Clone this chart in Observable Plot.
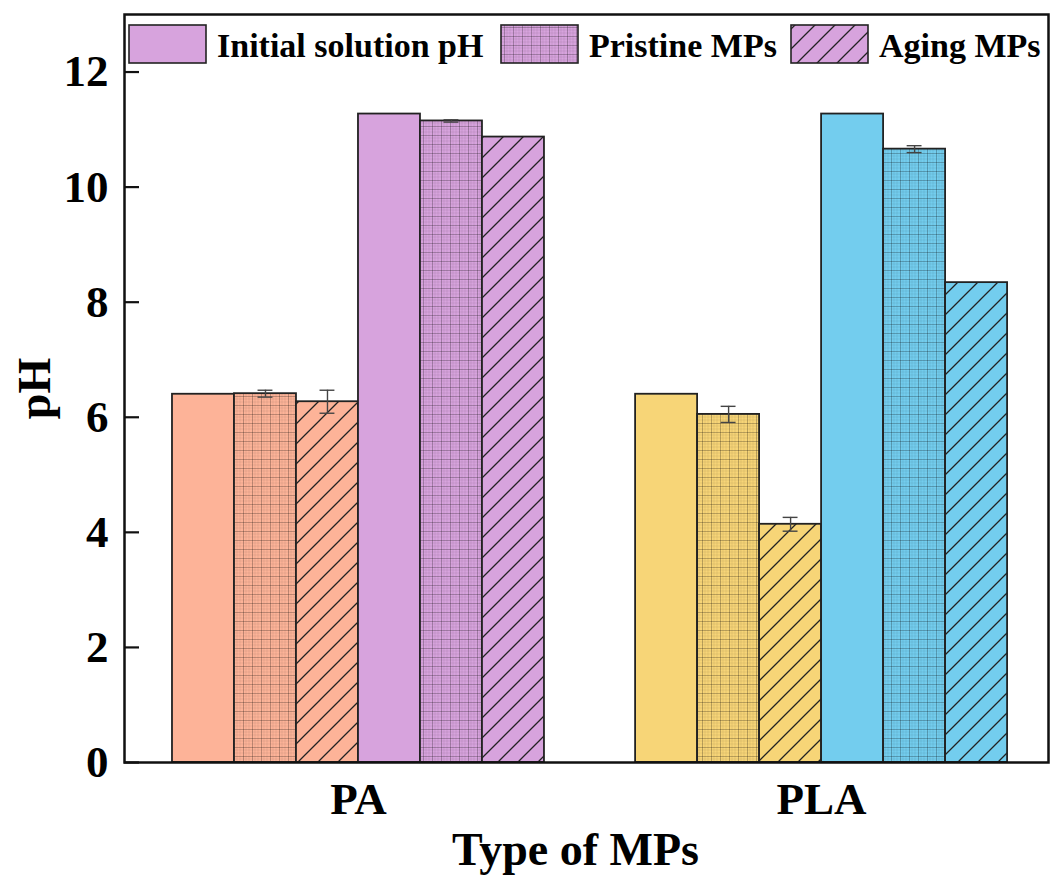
<!DOCTYPE html>
<html>
<head>
<meta charset="utf-8">
<script src="https://cdn.jsdelivr.net/npm/d3@7"></script>
<script src="https://cdn.jsdelivr.net/npm/@observablehq/plot@0.6"></script>
<style>
  html, body { margin: 0; padding: 0; background: #fff; }
  #chart svg { display: block; }
</style>
</head>
<body>
<div id="chart"></div>
<script>
// ---- data ----
const groups = ["PA", "PLA"];
const treatments = ["Initial solution pH", "Pristine MPs", "Aging MPs"];
const conditions = ["near-neutral", "alkaline"]; // two initial pH conditions per MP type
const paValues = [6.40, 6.41, 6.27, 11.27, 11.15, 10.87];
const paErrors = [0, 0.06, 0.20, 0, 0.02, 0];
const plaValues = [6.40, 6.05, 4.14, 11.27, 10.66, 8.34];
const plaErrors = [0, 0.14, 0.12, 0, 0.06, 0];
const paColors = ["#FDB398", "#D7A3DD"];
const plaColors = ["#F7D577", "#73CDEE"];
const yTicks = [0, 2, 4, 6, 8, 10, 12];

const valuesByGroup = {PA: paValues, PLA: plaValues};
const errorsByGroup = {PA: paErrors, PLA: plaErrors};
const colorsByGroup = {PA: paColors, PLA: plaColors};
const patternKinds = ["solid", "grid", "hatch"];

// layout in "bar units"
const groupStep = 7.47;
const bars = [];
groups.forEach((g, gi) => {
  conditions.forEach((c, ci) => {
    treatments.forEach((t, ti) => {
      const k = ci * 3 + ti;
      const pos = gi * groupStep + k;
      const color = colorsByGroup[g][ci];
      bars.push({
        group: g, condition: c, treatment: t,
        x1: pos, x2: pos + 1, xc: pos + 0.5,
        value: valuesByGroup[g][k], err: errorsByGroup[g][k],
        color, kind: patternKinds[ti],
        fillId: `p-${patternKinds[ti]}-${color.slice(1)}`
      });
    });
  });
});
const centers = groups.map((g, gi) => gi * groupStep + 3);

const fillIds = [...new Set(bars.map(d => d.fillId))];
const barMarks = fillIds.map(id =>
  Plot.rectY(bars.filter(d => d.fillId === id), {
    x1: "x1", x2: "x2", y1: 0, y2: "value",
    fill: `url(#${id})`, stroke: "#222", strokeWidth: 1.8
  })
);
const errBars = bars.filter(d => d.err > 0);

const W = 1051, H = 883;
const mL = 124, mR = 3, mT = 14, mB = 121;
const font = "'Liberation Serif', 'Times New Roman', serif";

const plot = Plot.plot({
  width: W, height: H,
  marginLeft: mL, marginRight: mR, marginTop: mT, marginBottom: mB,
  style: {fontFamily: font, background: "#fff", color: "#000"},
  x: {domain: [-0.774, 14.13], axis: null},
  y: {domain: [0, 13], axis: null},
  marks: [
    ...barMarks,
    Plot.ruleX(errBars, {x: "xc", y1: d => d.value - d.err, y2: d => d.value + d.err, stroke: "#444", strokeWidth: 1.4}),
    Plot.ruleY(errBars, {y: d => d.value - d.err, x1: d => d.xc - 0.12, x2: d => d.xc + 0.12, stroke: "#444", strokeWidth: 1.4}),
    Plot.ruleY(errBars, {y: d => d.value + d.err, x1: d => d.xc - 0.12, x2: d => d.xc + 0.12, stroke: "#444", strokeWidth: 1.4}),
    Plot.tickY(yTicks, {y: d => d, stroke: "#111", strokeWidth: 2.2, insetRight: W - mL - mR - 15}),
    Plot.axisY({ticks: yTicks, tickSize: 0, tickPadding: 16, fontSize: 45, fontWeight: "bold", label: null}),
    Plot.axisX({ticks: centers, tickFormat: d => groups[Math.round((d - 3) / groupStep)], tickSize: 0, tickPadding: 20, fontSize: 45, fontWeight: "bold", label: null}),
    Plot.text(["pH"], {text: d => d, frameAnchor: "left", dx: -89, rotate: -90, textAnchor: "middle", lineAnchor: "middle", fontSize: 46, fontWeight: "bold"}),
    Plot.text(["Type of MPs"], {text: d => d, frameAnchor: "bottom", dy: 88, dx: -11, textAnchor: "middle", lineAnchor: "middle", fontSize: 46, fontWeight: "bold"}),
    Plot.frame({stroke: "#111", strokeWidth: 2.5})
  ]
});

// ---- patterns ----
const svg = d3.select(plot);
const defs = svg.insert("defs", ":first-child");
const allColors = [...paColors, ...plaColors];
allColors.forEach(color => {
  const hex = color.slice(1);
  // solid
  defs.append("pattern").attr("id", `p-solid-${hex}`).attr("patternUnits", "userSpaceOnUse")
    .attr("width", 10).attr("height", 10)
    .append("rect").attr("width", 10).attr("height", 10).attr("fill", color);
  // grid
  const g = defs.append("pattern").attr("id", `p-grid-${hex}`).attr("patternUnits", "userSpaceOnUse")
    .attr("width", 9).attr("height", 9);
  g.append("rect").attr("width", 9).attr("height", 9).attr("fill", color);
  g.append("path").attr("d", "M3,0V9M6,0V9M0,3H9M0,6H9").attr("stroke", "rgba(0,0,0,0.10)").attr("stroke-width", 0.7);
  g.append("path").attr("d", "M0.5,0V9M0,0.5H9").attr("stroke", "rgba(0,0,0,0.28)").attr("stroke-width", 0.9);
  // hatch
  const h = defs.append("pattern").attr("id", `p-hatch-${hex}`).attr("patternUnits", "userSpaceOnUse")
    .attr("width", 20).attr("height", 20);
  h.append("rect").attr("width", 20).attr("height", 20).attr("fill", color);
  h.append("path").attr("d", "M0,20L20,0M-5,5L5,-5M15,25L25,15").attr("stroke", "#222").attr("stroke-width", 1.3);
});

// ---- legend (inside plot, top) ----
const legendColor = paColors[1];
const legendItems = treatments.map((t, i) => ({label: t, fillId: `p-${patternKinds[i]}-${legendColor.slice(1)}`}));
const legendBoxX = [129, 501, 791];
const lg = svg.append("g").attr("font-family", font).attr("font-weight", "bold").attr("font-size", 34).attr("text-anchor", "start");
legendItems.forEach((it, i) => {
  lg.append("rect").attr("x", legendBoxX[i]).attr("y", 25).attr("width", 77).attr("height", 38)
    .attr("fill", `url(#${it.fillId})`).attr("stroke", "#222").attr("stroke-width", 1.6);
  lg.append("text").attr("x", legendBoxX[i] + 88).attr("y", 57).attr("fill", "#000").attr("text-anchor", "start").text(it.label);
});

document.getElementById("chart").appendChild(plot);
</script>
</body>
</html>
